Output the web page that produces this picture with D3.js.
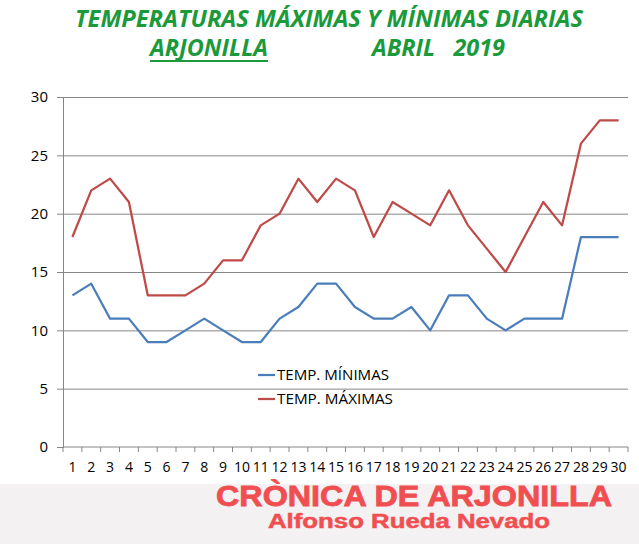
<!DOCTYPE html>
<html>
<head>
<meta charset="utf-8">
<script src="https://cdn.jsdelivr.net/npm/d3@7"></script>
<style>
  body { margin: 0; background: #fff; }
</style>
</head>
<body>
<div id="chart"></div>
<script>
// Daily temperatures, Arjonilla, April 2019
const days = d3.range(1, 31);
const tempMin = [13, 14, 11, 11, 9, 9, 10, 11, 10, 9, 9, 11, 12, 14, 14, 12, 11, 11, 12, 10, 13, 13, 11, 10, 11, 11, 11, 18, 18, 18];
const tempMax = [18, 22, 23, 21, 13, 13, 13, 14, 16, 16, 19, 20, 23, 21, 23, 22, 18, 21, 20, 19, 22, 19, 17, 15, 18, 21, 19, 26, 28, 28];
const yTicks = [0, 5, 10, 15, 20, 25, 30];
const seriesNames = ["TEMP. MÍNIMAS", "TEMP. MÁXIMAS"];
const seriesColors = ["#4a7ebb", "#be4b48"];

const width = 639, height = 544;
const margin = { top: 97, right: 11, bottom: 97, left: 63 };
const innerW = width - margin.left - margin.right;
const innerH = height - margin.top - margin.bottom;

const sans = "'Open Sans', 'Liberation Sans', sans-serif";
const arial = "'Liberation Sans', Arial, sans-serif";

const svg = d3.select("#chart").append("svg")
  .attr("width", width).attr("height", height)
  .style("font-family", sans);

// Bottom watermark band
svg.append("rect")
  .attr("x", 0).attr("y", 484).attr("width", width).attr("height", height - 484)
  .attr("fill", "#f3f1f1");

// Titles
const green = "#1a9a3a";
const titleText = (txt, tx, ty, len) =>
  svg.append("text")
    .attr("x", tx).attr("y", ty)
    .attr("textLength", len).attr("lengthAdjust", "spacingAndGlyphs")
    .attr("xml:space", "preserve")
    .style("font-family", sans)
    .style("font-size", "23px").style("font-weight", "bold").style("font-style", "italic")
    .attr("fill", green)
    .text(txt);
titleText("TEMPERATURAS MÁXIMAS Y MÍNIMAS DIARIAS", 75, 27, 508);
titleText("ARJONILLA", 150, 56, 118);
titleText("ABRIL   2019", 372, 56, 133);
svg.append("line")
  .attr("x1", 150).attr("x2", 268).attr("y1", 61).attr("y2", 61)
  .attr("stroke", green).attr("stroke-width", 2);

const plot = svg.append("g").attr("transform", `translate(${margin.left},${margin.top})`);

const x = d3.scaleBand().domain(days).range([0, innerW]);
const y = d3.scaleLinear().domain([0, 30]).range([innerH, 0]);

// Gridlines
plot.append("g")
  .call(d3.axisLeft(y).tickValues(yTicks.filter((d) => d > 0)).tickSize(-innerW).tickFormat(""))
  .call((g) => g.select(".domain").remove())
  .call((g) => g.selectAll("line").attr("stroke", "#868686"));

// Y axis
plot.append("g")
  .call(d3.axisLeft(y).tickValues(yTicks).tickSize(6).tickPadding(9))
  .call((g) => g.select(".domain").attr("stroke", "#868686"))
  .call((g) => g.selectAll("line").attr("stroke", "#868686"))
  .call((g) => g.selectAll("text").attr("fill", "#000")
    .style("font-size", "15px").style("font-family", sans));

// X axis with ticks between categories
const xAxisG = plot.append("g").attr("transform", `translate(0,${innerH})`);
xAxisG.append("line").attr("x1", 0).attr("x2", innerW).attr("stroke", "#868686");
xAxisG.selectAll("line.tick")
  .data(d3.range(0, 31))
  .join("line").attr("class", "tick")
  .attr("x1", (i) => i * x.step()).attr("x2", (i) => i * x.step())
  .attr("y1", 0).attr("y2", 5)
  .attr("stroke", "#868686");
xAxisG.selectAll("text")
  .data(days)
  .join("text")
  .attr("x", (d) => x(d) + x.bandwidth() / 2)
  .attr("y", 25)
  .attr("text-anchor", "middle")
  .style("font-size", "14px")
  .attr("textLength", (d) => (d >= 10 ? 16 : null))
  .attr("lengthAdjust", "spacingAndGlyphs")
  .attr("fill", "#000")
  .text((d) => d);

// Lines
const line = d3.line()
  .x((d, i) => x(days[i]) + x.bandwidth() / 2)
  .y((d) => y(d));

[tempMin, tempMax].forEach((values, i) => {
  plot.append("path")
    .datum(values)
    .attr("fill", "none")
    .attr("stroke", seriesColors[i])
    .attr("stroke-width", 2.25)
    .attr("stroke-linejoin", "round")
    .attr("d", line);
});

// Legend
const legend = svg.append("g");
seriesNames.forEach((name, i) => {
  const ly = 375 + i * 24;
  legend.append("line")
    .attr("x1", 258).attr("x2", 275).attr("y1", ly).attr("y2", ly)
    .attr("stroke", seriesColors[i]).attr("stroke-width", 2.25);
  legend.append("text")
    .attr("x", 277).attr("y", ly + 5)
    .attr("textLength", i === 0 ? 112 : 116).attr("lengthAdjust", "spacingAndGlyphs")
    .style("font-size", "15px")
    .attr("fill", "#000")
    .text(name);
});

// Watermark
const red = "#f04e50";
svg.append("text")
  .attr("x", 216).attr("y", 506)
  .attr("textLength", 396).attr("lengthAdjust", "spacingAndGlyphs")
  .style("font-family", arial)
  .style("font-size", "29px").style("font-weight", "bold")
  .attr("fill", red).attr("stroke", red).attr("stroke-width", 0.8)
  .text("CRÒNICA DE ARJONILLA");
svg.append("text")
  .attr("x", 268).attr("y", 528)
  .attr("textLength", 282).attr("lengthAdjust", "spacingAndGlyphs")
  .style("font-family", arial)
  .style("font-size", "20px").style("font-weight", "bold")
  .attr("fill", red).attr("stroke", red).attr("stroke-width", 0.5)
  .text("Alfonso Rueda Nevado");
</script>
</body>
</html>
